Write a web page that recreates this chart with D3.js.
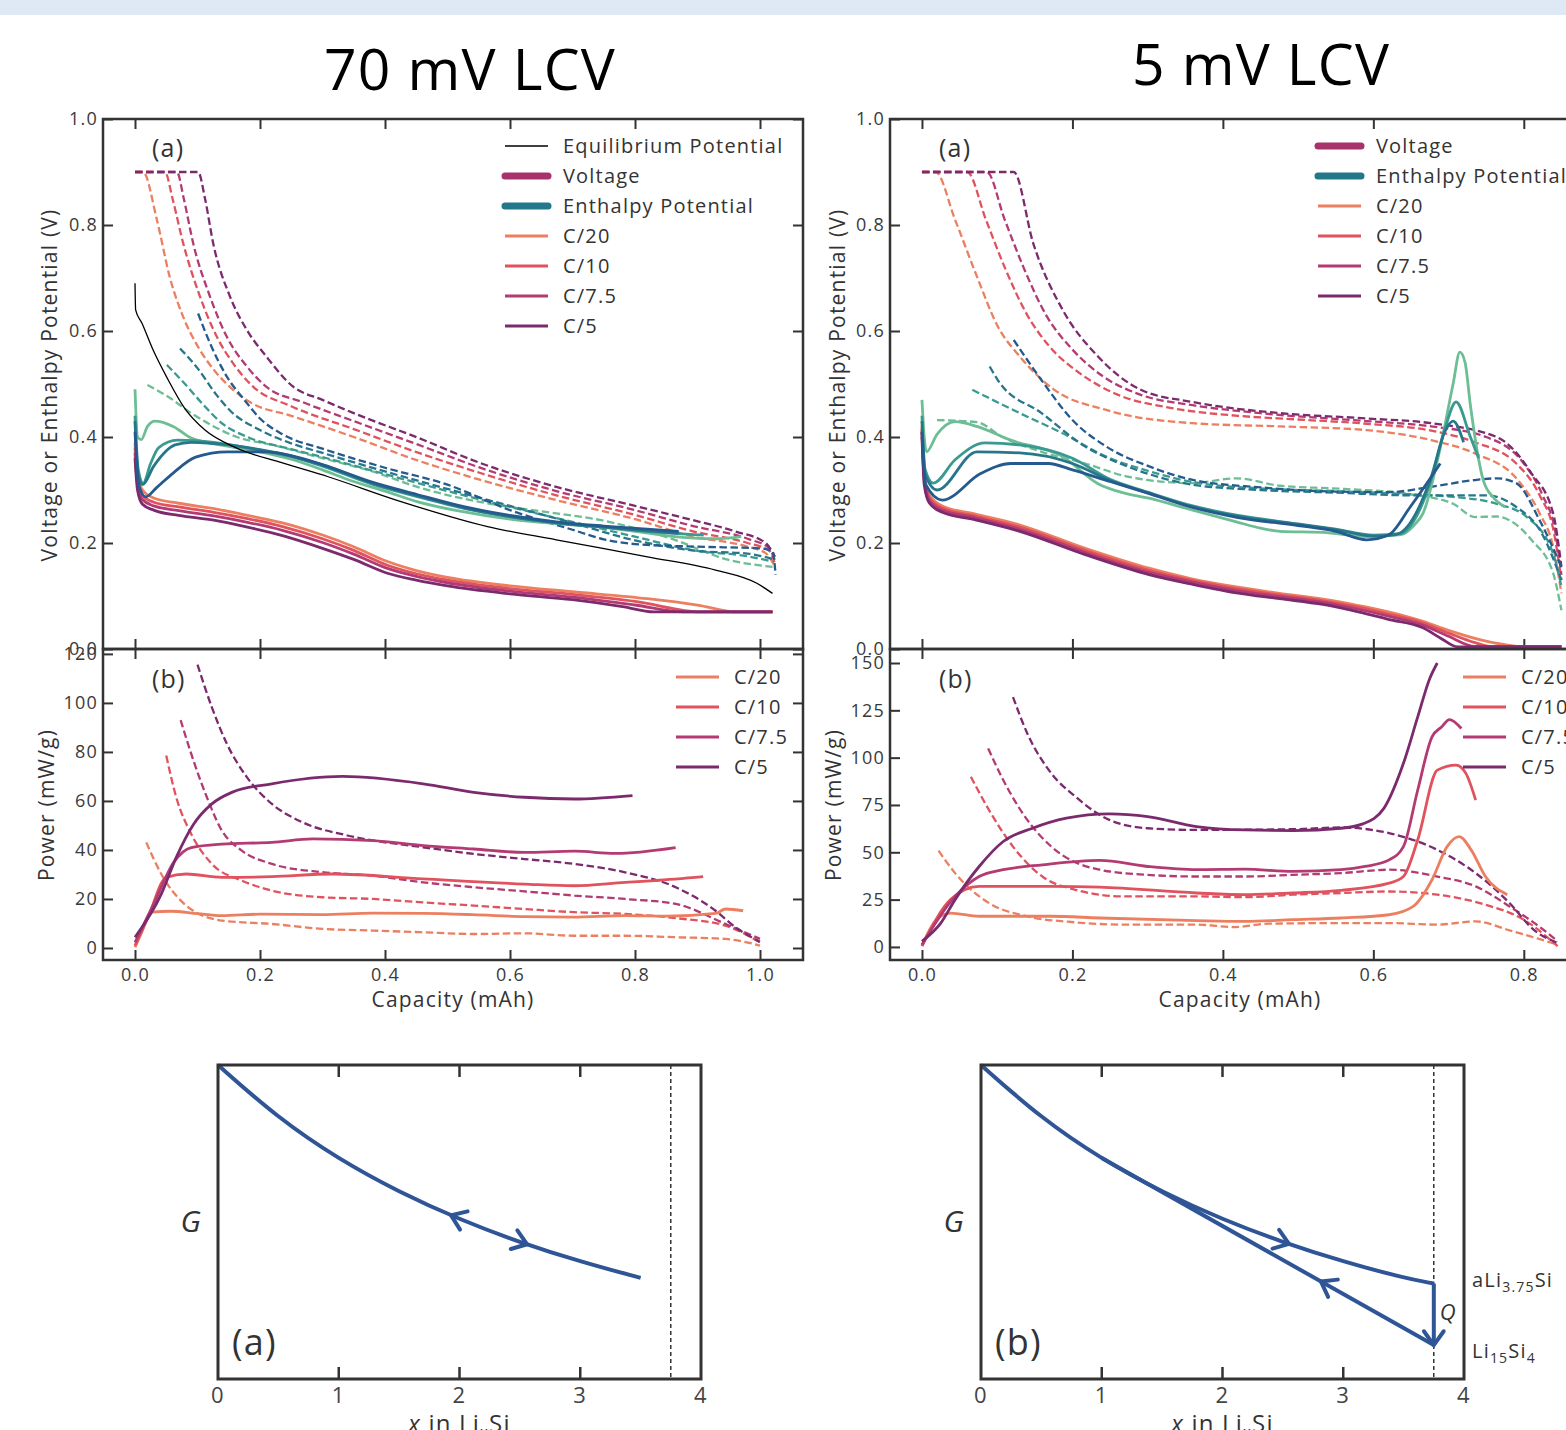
<!DOCTYPE html>
<html>
<head>
<meta charset="utf-8">
<script src="https://cdn.jsdelivr.net/npm/d3@7"></script>
<style>
  body { margin: 0; background: #fff; }
  svg text { font-family: "Open Sans", Lato, sans-serif; font-weight: 400; letter-spacing: 1.2px; }
</style>
</head>
<body>
<svg id="fig" width="1566" height="1430"></svg>
<script>
// ---------- data ----------
var rates = ["C/20", "C/10", "C/7.5", "C/5"];
var warm = ["#ec7f60", "#e0525e", "#b33b72", "#7b2a6e"];
var cool = ["#6dbd95", "#3a9a91", "#27778b", "#245a8e"];

// 70 mV LCV, panel (a): voltage (solid) for each rate
var v70 = [
  [[0,0.39],[0.004,0.33],[0.012,0.3],[0.03,0.285],[0.07,0.275],[0.126,0.265],[0.18,0.252],[0.236,0.238],[0.3,0.215],[0.35,0.193],[0.404,0.165],[0.45,0.148],[0.5,0.135],[0.6,0.119],[0.7,0.108],[0.82,0.095],[0.9,0.083],[0.965,0.07],[1.02,0.07]],
  [[0,0.38],[0.004,0.32],[0.012,0.29],[0.03,0.277],[0.07,0.268],[0.126,0.258],[0.18,0.246],[0.236,0.231],[0.3,0.208],[0.35,0.186],[0.404,0.158],[0.45,0.142],[0.5,0.13],[0.6,0.114],[0.7,0.103],[0.8,0.09],[0.907,0.07],[1.02,0.07]],
  [[0,0.37],[0.004,0.31],[0.012,0.282],[0.03,0.27],[0.07,0.261],[0.126,0.251],[0.18,0.239],[0.236,0.224],[0.3,0.201],[0.35,0.179],[0.404,0.152],[0.45,0.137],[0.5,0.125],[0.6,0.109],[0.7,0.098],[0.8,0.083],[0.878,0.07],[1.02,0.07]],
  [[0,0.36],[0.004,0.3],[0.012,0.273],[0.03,0.262],[0.07,0.252],[0.126,0.243],[0.18,0.23],[0.236,0.214],[0.3,0.19],[0.35,0.169],[0.404,0.143],[0.45,0.13],[0.5,0.119],[0.6,0.104],[0.7,0.093],[0.78,0.08],[0.83,0.07],[1.02,0.07]]
];
// 70 mV: voltage, other direction (dashed)
var v70d = [
  [[0,0.9],[0.013,0.9],[0.035,0.81],[0.056,0.70],[0.077,0.627],[0.104,0.564],[0.131,0.52],[0.157,0.489],[0.185,0.465],[0.25,0.44],[0.35,0.40],[0.454,0.355],[0.55,0.32],[0.674,0.281],[0.8,0.245],[0.893,0.212],[0.98,0.193],[1.01,0.18],[1.024,0.155]],
  [[0,0.9],[0.048,0.9],[0.06,0.85],[0.077,0.766],[0.104,0.665],[0.131,0.589],[0.157,0.539],[0.189,0.495],[0.25,0.458],[0.35,0.415],[0.454,0.37],[0.55,0.333],[0.674,0.29],[0.8,0.253],[0.893,0.222],[0.98,0.2],[1.015,0.185],[1.024,0.16]],
  [[0,0.9],[0.067,0.9],[0.078,0.85],[0.093,0.766],[0.12,0.665],[0.147,0.589],[0.179,0.533],[0.21,0.495],[0.27,0.465],[0.35,0.43],[0.454,0.385],[0.55,0.343],[0.674,0.298],[0.8,0.262],[0.893,0.232],[0.98,0.208],[1.015,0.19],[1.024,0.165]],
  [[0,0.9],[0.101,0.9],[0.112,0.85],[0.125,0.766],[0.152,0.665],[0.179,0.602],[0.21,0.552],[0.253,0.495],[0.3,0.47],[0.35,0.445],[0.454,0.398],[0.55,0.352],[0.674,0.306],[0.8,0.27],[0.893,0.243],[0.96,0.222],[1.009,0.2],[1.024,0.174]]
];
// 70 mV: enthalpy potential (solid)
var e70 = [
  [[0,0.49],[0.004,0.4],[0.01,0.395],[0.02,0.42],[0.032,0.43],[0.061,0.42],[0.09,0.398],[0.148,0.383],[0.2,0.372],[0.25,0.358],[0.3,0.338],[0.345,0.318],[0.4,0.298],[0.454,0.277],[0.52,0.26],[0.6,0.245],[0.68,0.236],[0.746,0.23],[0.8,0.222],[0.856,0.213],[0.93,0.208],[0.97,0.212]],
  [[0,0.44],[0.005,0.34],[0.013,0.313],[0.025,0.35],[0.038,0.38],[0.068,0.394],[0.126,0.39],[0.2,0.375],[0.25,0.363],[0.3,0.345],[0.382,0.31],[0.45,0.288],[0.528,0.265],[0.6,0.25],[0.674,0.238],[0.75,0.23],[0.82,0.222],[0.91,0.215]],
  [[0,0.43],[0.005,0.33],[0.012,0.31],[0.03,0.345],[0.064,0.385],[0.09,0.39],[0.15,0.385],[0.2,0.376],[0.25,0.364],[0.3,0.347],[0.382,0.312],[0.45,0.29],[0.528,0.266],[0.6,0.25],[0.674,0.238],[0.75,0.23],[0.82,0.223],[0.87,0.218]],
  [[0,0.41],[0.006,0.31],[0.017,0.287],[0.035,0.305],[0.061,0.332],[0.097,0.362],[0.148,0.372],[0.21,0.372],[0.25,0.365],[0.3,0.348],[0.382,0.314],[0.45,0.292],[0.528,0.268],[0.6,0.252],[0.674,0.24],[0.75,0.232],[0.82,0.226],[0.87,0.222]]
];
// 70 mV: enthalpy potential (dashed)
var e70d = [
  [[0.02,0.498],[0.053,0.476],[0.09,0.445],[0.126,0.42],[0.163,0.40],[0.22,0.385],[0.3,0.36],[0.38,0.335],[0.454,0.305],[0.52,0.285],[0.6,0.268],[0.68,0.255],[0.746,0.243],[0.8,0.228],[0.856,0.209],[0.95,0.168],[1.02,0.155]],
  [[0.051,0.536],[0.08,0.5],[0.11,0.46],[0.14,0.425],[0.18,0.4],[0.25,0.377],[0.3,0.362],[0.4,0.33],[0.5,0.298],[0.6,0.268],[0.7,0.24],[0.8,0.212],[0.9,0.185],[0.98,0.175],[1.02,0.165]],
  [[0.072,0.567],[0.1,0.53],[0.13,0.48],[0.152,0.45],[0.2,0.413],[0.25,0.388],[0.3,0.37],[0.4,0.335],[0.5,0.302],[0.6,0.27],[0.7,0.238],[0.8,0.205],[0.9,0.185],[0.98,0.18],[1.02,0.17]],
  [[0.101,0.633],[0.12,0.577],[0.147,0.514],[0.175,0.47],[0.2,0.435],[0.236,0.405],[0.3,0.378],[0.4,0.342],[0.5,0.31],[0.6,0.262],[0.7,0.225],[0.75,0.207],[0.8,0.198],[0.9,0.193],[1.0,0.19],[1.02,0.185],[1.025,0.14]]
];
// 70 mV: equilibrium potential
var eq70 = [[0,0.69],[0.001,0.64],[0.011,0.615],[0.029,0.564],[0.053,0.508],[0.079,0.455],[0.112,0.413],[0.163,0.379],[0.236,0.351],[0.309,0.325],[0.418,0.281],[0.564,0.231],[0.674,0.206],[0.82,0.174],[0.929,0.149],[0.995,0.124],[1.02,0.105]];

// 70 mV, panel (b): power
var p70 = [
  [[0,0.3],[0.01,6],[0.026,14.6],[0.058,15],[0.1,14],[0.139,13.2],[0.2,13.8],[0.3,13.6],[0.38,14.2],[0.461,14.1],[0.54,13.6],[0.623,12.8],[0.7,12.6],[0.784,13.2],[0.85,13],[0.929,14.1],[0.945,15.9],[0.973,15.2]],
  [[0,1],[0.02,12],[0.05,28.8],[0.082,30.2],[0.139,28.8],[0.219,29.1],[0.316,30.2],[0.461,28.2],[0.623,26.1],[0.703,25.4],[0.784,26.8],[0.832,27.5],[0.909,29.1]],
  [[0,2.3],[0.03,18],[0.062,35],[0.09,41],[0.139,42.4],[0.219,43.1],[0.284,44.5],[0.381,43.8],[0.461,41.8],[0.542,40.4],[0.623,39],[0.703,39.5],[0.768,38.6],[0.865,41]],
  [[0,4.4],[0.042,22],[0.066,37],[0.094,50.6],[0.123,58.8],[0.155,63.5],[0.219,67],[0.332,70],[0.461,67],[0.542,63.5],[0.623,61.5],[0.703,60.8],[0.796,62.2]]
];
var p70d = [
  [[0.018,43.1],[0.042,30.2],[0.082,17.3],[0.139,11.2],[0.219,9.8],[0.3,7.8],[0.381,7.1],[0.461,6.4],[0.542,5.7],[0.623,6],[0.703,5],[0.784,5],[0.865,4.4],[0.945,3.7],[1.0,1]],
  [[0.05,78.5],[0.066,61.5],[0.09,46.5],[0.123,34.3],[0.171,27.5],[0.219,23.4],[0.3,20.7],[0.381,20],[0.461,18.6],[0.542,17.3],[0.623,15.9],[0.703,14.6],[0.784,13.9],[0.865,12.2],[0.945,9.1],[1.0,2.3]],
  [[0.073,93],[0.09,79.2],[0.115,61.5],[0.139,47.9],[0.171,39.7],[0.219,34.3],[0.3,30.9],[0.381,29.5],[0.461,26.8],[0.542,24.8],[0.623,23.1],[0.703,21.4],[0.784,20],[0.865,18],[0.945,9.8],[1.0,3.7]],
  [[0.1,115.6],[0.123,98.2],[0.147,83.3],[0.179,69.7],[0.219,58.8],[0.268,51.3],[0.34,45.9],[0.461,41.1],[0.542,38.4],[0.623,36.3],[0.703,34.3],[0.784,30.9],[0.865,24.8],[0.929,15.2],[0.961,8.4],[1.0,2.5]]
];

// 5 mV LCV, panel (a)
var v5 = [
  [[0,0.42],[0.003,0.33],[0.01,0.29],[0.027,0.27],[0.07,0.255],[0.13,0.234],[0.217,0.19],[0.303,0.152],[0.36,0.132],[0.418,0.117],[0.475,0.105],[0.533,0.094],[0.58,0.082],[0.62,0.07],[0.666,0.052],[0.7,0.035],[0.74,0.018],[0.775,0.008],[0.795,0.005],[0.85,0.005]],
  [[0,0.415],[0.003,0.325],[0.01,0.285],[0.027,0.266],[0.07,0.251],[0.13,0.23],[0.217,0.186],[0.303,0.148],[0.36,0.129],[0.418,0.114],[0.475,0.102],[0.533,0.091],[0.58,0.079],[0.62,0.066],[0.666,0.049],[0.7,0.03],[0.735,0.012],[0.755,0.005],[0.85,0.005]],
  [[0,0.41],[0.003,0.32],[0.01,0.28],[0.027,0.262],[0.07,0.248],[0.13,0.226],[0.217,0.182],[0.303,0.144],[0.36,0.126],[0.418,0.11],[0.475,0.099],[0.533,0.088],[0.58,0.075],[0.62,0.062],[0.666,0.045],[0.7,0.024],[0.735,0.005],[0.85,0.005]],
  [[0,0.40],[0.003,0.31],[0.01,0.275],[0.027,0.258],[0.07,0.244],[0.13,0.222],[0.217,0.178],[0.303,0.14],[0.36,0.122],[0.418,0.106],[0.475,0.095],[0.533,0.084],[0.58,0.07],[0.62,0.056],[0.666,0.04],[0.69,0.02],[0.712,0.004],[0.85,0.004]]
];
var v5d = [
  [[0,0.9],[0.018,0.9],[0.044,0.81],[0.073,0.703],[0.101,0.608],[0.13,0.552],[0.176,0.489],[0.245,0.451],[0.36,0.426],[0.476,0.42],[0.591,0.413],[0.677,0.394],[0.735,0.369],[0.792,0.319],[0.821,0.256],[0.839,0.193],[0.85,0.105]],
  [[0,0.9],[0.06,0.9],[0.085,0.81],[0.11,0.72],[0.14,0.63],[0.17,0.57],[0.21,0.52],[0.26,0.48],[0.33,0.455],[0.42,0.44],[0.5,0.433],[0.591,0.425],[0.677,0.412],[0.735,0.39],[0.79,0.35],[0.821,0.29],[0.84,0.22],[0.85,0.13]],
  [[0,0.9],[0.086,0.9],[0.11,0.81],[0.135,0.72],[0.165,0.63],[0.2,0.565],[0.24,0.515],[0.29,0.48],[0.36,0.46],[0.45,0.445],[0.591,0.43],[0.677,0.42],[0.75,0.4],[0.8,0.35],[0.825,0.29],[0.842,0.22],[0.85,0.14]],
  [[0,0.9],[0.122,0.9],[0.148,0.765],[0.187,0.64],[0.234,0.552],[0.291,0.489],[0.36,0.466],[0.476,0.445],[0.591,0.435],[0.677,0.426],[0.764,0.40],[0.81,0.332],[0.839,0.256],[0.85,0.155]]
];
var e5 = [
  [[0,0.47],[0.003,0.4],[0.006,0.372],[0.02,0.405],[0.044,0.429],[0.073,0.42],[0.118,0.394],[0.187,0.363],[0.234,0.312],[0.264,0.296],[0.3,0.285],[0.36,0.262],[0.418,0.24],[0.45,0.228],[0.476,0.222],[0.533,0.22],[0.591,0.212],[0.637,0.216],[0.655,0.235],[0.666,0.256],[0.689,0.38],[0.706,0.5],[0.715,0.56],[0.722,0.54],[0.729,0.46],[0.746,0.319],[0.76,0.285],[0.775,0.268]],
  [[0,0.44],[0.004,0.34],[0.015,0.313],[0.044,0.357],[0.084,0.389],[0.13,0.385],[0.2,0.36],[0.25,0.32],[0.3,0.296],[0.36,0.27],[0.42,0.252],[0.5,0.236],[0.55,0.226],[0.6,0.215],[0.637,0.218],[0.649,0.232],[0.677,0.32],[0.695,0.415],[0.71,0.466],[0.729,0.40],[0.74,0.36]],
  [[0,0.43],[0.004,0.33],[0.02,0.30],[0.073,0.372],[0.13,0.37],[0.2,0.35],[0.25,0.318],[0.3,0.295],[0.36,0.268],[0.42,0.25],[0.5,0.235],[0.55,0.225],[0.6,0.213],[0.63,0.216],[0.677,0.325],[0.695,0.41],[0.706,0.43],[0.72,0.39]],
  [[0,0.41],[0.005,0.31],[0.027,0.281],[0.078,0.331],[0.118,0.35],[0.168,0.35],[0.2,0.338],[0.25,0.316],[0.3,0.294],[0.36,0.267],[0.42,0.248],[0.5,0.233],[0.55,0.222],[0.591,0.206],[0.62,0.215],[0.649,0.268],[0.689,0.35]]
];
var e5d = [
  [[0.02,0.432],[0.073,0.428],[0.107,0.40],[0.159,0.372],[0.217,0.35],[0.274,0.325],[0.36,0.313],[0.418,0.322],[0.476,0.308],[0.562,0.302],[0.649,0.292],[0.706,0.274],[0.735,0.249],[0.764,0.25],[0.781,0.243],[0.81,0.206],[0.839,0.143],[0.85,0.073]],
  [[0.067,0.489],[0.13,0.445],[0.187,0.407],[0.245,0.363],[0.303,0.335],[0.36,0.315],[0.45,0.303],[0.55,0.298],[0.65,0.292],[0.706,0.287],[0.764,0.274],[0.804,0.249],[0.839,0.18],[0.85,0.118]],
  [[0.09,0.533],[0.101,0.507],[0.159,0.445],[0.217,0.382],[0.274,0.344],[0.36,0.31],[0.45,0.3],[0.55,0.295],[0.65,0.29],[0.706,0.29],[0.75,0.29],[0.79,0.268],[0.824,0.218],[0.85,0.13]],
  [[0.122,0.583],[0.159,0.507],[0.2,0.432],[0.245,0.382],[0.303,0.344],[0.36,0.319],[0.45,0.305],[0.55,0.297],[0.62,0.296],[0.677,0.306],[0.73,0.318],[0.764,0.322],[0.79,0.313],[0.821,0.243],[0.85,0.155]]
];
var p5 = [
  [[0,0.7],[0.019,14.4],[0.038,17.9],[0.076,16.2],[0.172,16.2],[0.236,15.3],[0.365,13.9],[0.429,13.5],[0.493,14.4],[0.557,15.3],[0.621,17],[0.653,21.4],[0.678,35.5],[0.698,53],[0.714,58.3],[0.73,51.3],[0.749,37.2],[0.778,27.6]],
  [[0,0.4],[0.038,25],[0.076,32],[0.172,32],[0.236,31.6],[0.365,28.5],[0.429,27.6],[0.493,28.5],[0.557,29.9],[0.621,33.7],[0.64,37.2],[0.659,56.6],[0.685,93.4],[0.71,96.1],[0.723,91.7],[0.736,77.6]],
  [[0,1.2],[0.044,26.7],[0.076,37.2],[0.108,40.8],[0.16,43.4],[0.236,45.7],[0.3,42.5],[0.365,40.8],[0.429,41.1],[0.493,39.9],[0.557,40.8],[0.589,42.5],[0.621,46],[0.64,53],[0.659,82.9],[0.678,111],[0.691,116.3],[0.701,120.1],[0.717,115.4]],
  [[0,3],[0.025,12.6],[0.044,25],[0.076,42.5],[0.108,55.7],[0.147,62.7],[0.192,68],[0.249,70.3],[0.3,68.9],[0.365,63.6],[0.429,61.8],[0.493,61.5],[0.557,62.7],[0.586,65],[0.614,73.2],[0.64,97],[0.659,121.5],[0.675,141.8],[0.685,150]]
];
var p5d = [
  [[0.022,50.9],[0.044,39],[0.089,23.2],[0.14,16.2],[0.204,13],[0.268,11.8],[0.365,11.8],[0.416,10.5],[0.461,12.3],[0.557,12.6],[0.621,12.6],[0.685,11.8],[0.736,13.5],[0.781,8.8],[0.845,1.2]],
  [[0.065,89.9],[0.089,72.4],[0.121,53],[0.16,37.2],[0.204,30.2],[0.268,26.7],[0.365,26.7],[0.429,26.3],[0.493,27.6],[0.557,28.5],[0.621,29.3],[0.685,27.6],[0.749,22.3],[0.8,14.4],[0.845,0.4]],
  [[0.088,104.9],[0.108,88.2],[0.14,67.1],[0.172,53],[0.236,40.8],[0.3,38.1],[0.365,37.2],[0.429,37.2],[0.493,38.1],[0.557,39],[0.621,40.8],[0.685,37.2],[0.736,32],[0.781,21.4],[0.826,9.1],[0.845,3]],
  [[0.121,132],[0.14,112.8],[0.172,91.7],[0.204,79.4],[0.249,67.1],[0.3,62.7],[0.365,61.8],[0.493,62.2],[0.557,63.1],[0.621,60.1],[0.685,51.3],[0.736,39],[0.781,23.2],[0.813,9.1],[0.845,2.1]]
];

// free-energy sketches (arbitrary G units, 0 = bottom, 1 = top)
var gCurve = [[0,1],[0.5,0.83],[1,0.70],[1.5,0.595],[2,0.508],[2.5,0.435],[3,0.374],[3.5,0.322],[3.75,0.304]];
var gLower = [[1.0,0.70],[3.75,0.108]];
var xCrys = 3.75;

// ---------- drawing ----------
var svg = d3.select("#fig");
var ink = "#333";

svg.append("rect").attr("x", 0).attr("y", 0).attr("width", 1566).attr("height", 15).attr("fill", "#dfe9f5");

var clipN = 0;
function panel(x, y, xt, yt, yfmt, showXLabels) {
  var g = svg.append("g");
  var x0 = x.range()[0], x1 = x.range()[1], y0 = y.range()[1], y1 = y.range()[0];
  function style(a) {
    a.select(".domain").remove();
    a.selectAll("line").attr("stroke", ink).attr("stroke-width", 2);
    a.selectAll("text").attr("font-size", 18).attr("fill", "#3a3a3a").style("font-family", null);
  }
  g.append("g").attr("transform", "translate(" + x0 + ",0)")
    .call(d3.axisLeft(y).tickValues(yt).tickFormat(yfmt).tickSize(-10).tickPadding(5)).call(style);
  g.append("g").attr("transform", "translate(" + x1 + ",0)")
    .call(d3.axisRight(y).tickValues(yt).tickFormat("").tickSize(-10)).call(style);
  g.append("g").attr("transform", "translate(0," + y0 + ")")
    .call(d3.axisTop(x).tickValues(xt).tickFormat("").tickSize(-10)).call(style);
  g.append("g").attr("transform", "translate(0," + y1 + ")")
    .call(d3.axisBottom(x).tickValues(xt).tickFormat(showXLabels ? d3.format(".1f") : "").tickSize(-10).tickPadding(8)).call(style);
  g.append("rect").attr("x", x0).attr("y", y0).attr("width", x1 - x0).attr("height", y1 - y0)
    .attr("fill", "none").attr("stroke", ink).attr("stroke-width", 2.5);
  var id = "clip" + (clipN++);
  svg.append("clipPath").attr("id", id).append("rect")
    .attr("x", x0).attr("y", y0).attr("width", x1 - x0).attr("height", y1 - y0);
  return svg.append("g").attr("clip-path", "url(#" + id + ")");
}

function draw(g, x, y, series, colors, dashed, width) {
  var line = d3.line().x(function (d) { return x(d[0]); }).y(function (d) { return y(d[1]); }).curve(d3.curveMonotoneX);
  series.forEach(function (s, i) {
    g.append("path").attr("d", line(s)).attr("fill", "none")
      .attr("stroke", colors[i]).attr("stroke-width", width)
      .attr("stroke-dasharray", dashed ? "7.5,3.5" : null)
      .attr("stroke-linejoin", "round");
  });
}

function legend(x, y, items) {
  items.forEach(function (it, i) {
    var yy = y + i * 30;
    svg.append("line").attr("x1", x).attr("x2", x + 43).attr("y1", yy).attr("y2", yy)
      .attr("stroke", it.c).attr("stroke-width", it.w).attr("stroke-linecap", it.w > 4 ? "round" : "butt");
    svg.append("text").attr("x", x + 58).attr("y", yy + 7).attr("font-size", 20).attr("fill", ink).text(it.t);
  });
}

function label(x, y, t, size, anchor, rot) {
  var el = svg.append("text").attr("font-size", size).attr("fill", ink).attr("text-anchor", anchor || "start").text(t);
  if (rot) el.attr("transform", "translate(" + x + "," + y + ") rotate(-90)");
  else el.attr("x", x).attr("y", y);
  return el;
}

var capTicks = [0, 0.2, 0.4, 0.6, 0.8, 1.0];
var vTicks = [0, 0.2, 0.4, 0.6, 0.8, 1.0];
var rateItems = rates.map(function (r, i) { return { t: r, c: warm[i], w: 3 }; });

// ---- left column: 70 mV ----
var xL = d3.scaleLinear().domain([-0.0512, 1.0688]).range([103, 803]);
var yTop = d3.scaleLinear().domain([0, 1]).range([649, 119]);
var yPL = d3.scaleLinear().domain([-4.9, 122]).range([960, 649]);

var gA = panel(xL, yTop, capTicks, vTicks, d3.format(".1f"), false);
draw(gA, xL, yTop, v70d, warm, true, 2.3);
draw(gA, xL, yTop, e70d, cool, true, 2.3);
draw(gA, xL, yTop, v70, warm, false, 2.8);
draw(gA, xL, yTop, e70, cool, false, 2.8);
draw(gA, xL, yTop, [eq70], ["#000"], false, 1.3);

var gB = panel(xL, yPL, capTicks, [0, 20, 40, 60, 80, 100, 120], d3.format("d"), true);
draw(gB, xL, yPL, p70d, warm, true, 2.3);
draw(gB, xL, yPL, p70, warm, false, 2.8);

legend(505, 146, [{ t: "Equilibrium Potential", c: "#000", w: 1.5 }, { t: "Voltage", c: "#a8336c", w: 7 }, { t: "Enthalpy Potential", c: "#23778a", w: 7 }].concat(rateItems));
legend(676, 677, rateItems);

// ---- right column: 5 mV ----
var xR = d3.scaleLinear().domain([-0.0425, 0.888]).range([890, 1590]);
var yPR = d3.scaleLinear().domain([-6.9, 157.4]).range([960, 649]);

var gC = panel(xR, yTop, capTicks, vTicks, d3.format(".1f"), false);
draw(gC, xR, yTop, v5d, warm, true, 2.3);
draw(gC, xR, yTop, e5d, cool, true, 2.3);
draw(gC, xR, yTop, v5, warm, false, 2.8);
draw(gC, xR, yTop, e5, cool, false, 2.8);

var gD = panel(xR, yPR, capTicks, [0, 25, 50, 75, 100, 125, 150], d3.format("d"), true);
draw(gD, xR, yPR, p5d, warm, true, 2.3);
draw(gD, xR, yPR, p5, warm, false, 2.8);

legend(1318, 146, [{ t: "Voltage", c: "#a8336c", w: 7 }, { t: "Enthalpy Potential", c: "#23778a", w: 7 }].concat(rateItems));
legend(1463, 677, rateItems);

// titles, axis labels, panel letters
label(470, 90, "70 mV LCV", 57, "middle").attr("fill", "#000").attr("letter-spacing", 0.5);
label(1261, 85, "5 mV LCV", 57, "middle").attr("fill", "#000").attr("letter-spacing", 0.5);
label(57, 385, "Voltage or Enthalpy Potential (V)", 21, "middle", true);
label(845, 385, "Voltage or Enthalpy Potential (V)", 21, "middle", true);
label(54, 805, "Power (mW/g)", 21, "middle", true);
label(841, 805, "Power (mW/g)", 21, "middle", true);
label(453, 1007, "Capacity (mAh)", 21, "middle");
label(1240, 1007, "Capacity (mAh)", 21, "middle");
label(152, 157, "(a)", 25);
label(939, 157, "(a)", 25);
label(152, 688, "(b)", 25);
label(939, 688, "(b)", 25);

// ---- free-energy sketches ----
var blue = "#2f5597";
function chevron(g, x, y, p0, p1) {
  // tip at p1, pointing from p0 to p1
  var ax = x(p1[0]) - x(p0[0]), ay = y(p1[1]) - y(p0[1]);
  var th = Math.atan2(ay, ax), L = 17, a = 0.62;
  var tx = x(p1[0]), ty = y(p1[1]);
  var pts = [[tx - L * Math.cos(th + a), ty - L * Math.sin(th + a)], [tx, ty], [tx - L * Math.cos(th - a), ty - L * Math.sin(th - a)]];
  g.append("path").attr("d", d3.line()(pts)).attr("fill", "none").attr("stroke", blue)
    .attr("stroke-width", 4).attr("stroke-linecap", "round").attr("stroke-linejoin", "miter");
}
function gPanel(x0, letter, isCrys) {
  var x = d3.scaleLinear().domain([0, 4]).range([x0, x0 + 483]);
  var y = d3.scaleLinear().domain([0, 1]).range([1379, 1065]);
  var g = svg.append("g");
  g.append("line").attr("x1", x(xCrys)).attr("x2", x(xCrys)).attr("y1", y(1)).attr("y2", y(0))
    .attr("stroke", "#000").attr("stroke-width", 1.2).attr("stroke-dasharray", "4,3");
  var line = d3.line().x(function (d) { return x(d[0]); }).y(function (d) { return y(d[1]); }).curve(d3.curveBasis);
  var upper = isCrys ? gCurve : gCurve.filter(function (d) { return d[0] <= 3.5; });
  var path = g.append("path").attr("d", line(upper)).attr("fill", "none").attr("stroke", blue).attr("stroke-width", 4).node();
  function onCurve(xv) {
    var lo = 0, hi = path.getTotalLength();
    for (var k = 0; k < 40; k++) {
      var mid = (lo + hi) / 2, p = path.getPointAtLength(mid);
      if (x.invert(p.x) < xv) lo = mid; else hi = mid;
    }
    var q = path.getPointAtLength(lo);
    return [x.invert(q.x), y.invert(q.y)];
  }
  if (isCrys) {
    var top = gCurve[gCurve.length - 1];
    var start = onCurve(gLower[0][0]);
    g.append("line").attr("x1", x(xCrys)).attr("x2", x(xCrys)).attr("y1", y(top[1])).attr("y2", y(gLower[1][1]))
      .attr("stroke", blue).attr("stroke-width", 4);
    g.append("path").attr("d", d3.line().x(function (d) { return x(d[0]); }).y(function (d) { return y(d[1]); })([start, gLower[1]]))
      .attr("fill", "none").attr("stroke", blue).attr("stroke-width", 4);
    chevron(g, x, y, onCurve(2.4), onCurve(2.55));
    var t = 0.66, lx = start[0] + (gLower[1][0] - start[0]) * t, ly = start[1] + (gLower[1][1] - start[1]) * t;
    var dx = (gLower[1][0] - start[0]) * 0.05, dy = (gLower[1][1] - start[1]) * 0.05;
    chevron(g, x, y, [lx + dx, ly + dy], [lx, ly]);
    chevron(g, x, y, [xCrys, 0.2], [xCrys, gLower[1][1]]);
  } else {
    chevron(g, x, y, onCurve(2.1), onCurve(1.93));
    chevron(g, x, y, onCurve(2.4), onCurve(2.56));
  }
  [1, 2, 3].forEach(function (v) {
    g.append("line").attr("x1", x(v)).attr("x2", x(v)).attr("y1", y(1)).attr("y2", y(1) + 12).attr("stroke", ink).attr("stroke-width", 2.5);
    g.append("line").attr("x1", x(v)).attr("x2", x(v)).attr("y1", y(0)).attr("y2", y(0) - 12).attr("stroke", ink).attr("stroke-width", 2.5);
  });
  g.append("rect").attr("x", x(0)).attr("y", y(1)).attr("width", x(4) - x(0)).attr("height", y(0) - y(1))
    .attr("fill", "none").attr("stroke", ink).attr("stroke-width", 3);
  [0, 1, 2, 3, 4].forEach(function (v) {
    label(x(v), 1403, String(v), 22, "middle").attr("fill", "#444");
  });
  var xl = label(x(2), 1432, "", 24, "middle");
  xl.append("tspan").attr("font-style", "italic").text("x");
  xl.append("tspan").text(" in Li");
  xl.append("tspan").attr("font-size", 15).attr("dy", 5).text("x");
  xl.append("tspan").attr("dy", -5).text("Si");
  label(x(0) - 16, 1232, "G", 30, "end").attr("font-style", "italic");
  label(x(0) + 14, 1355, letter, 36);
  if (isCrys) {
    var a1 = label(x(4) + 8, 1287, "aLi", 20).attr("letter-spacing", 0.5);
    a1.append("tspan").attr("font-size", 14).attr("dy", 5).text("3.75");
    a1.append("tspan").attr("dy", -5).text("Si");
    var a2 = label(x(4) + 8, 1358, "Li", 20).attr("letter-spacing", 0.5);
    a2.append("tspan").attr("font-size", 14).attr("dy", 5).text("15");
    a2.append("tspan").attr("dy", -5).text("Si");
    a2.append("tspan").attr("font-size", 14).attr("dy", 5).text("4");
    label(x(xCrys) + 6, 1320, "Q", 22).attr("font-style", "italic");
  }
}
gPanel(218, "(a)", false);
gPanel(981, "(b)", true);
</script>
</body>
</html>
